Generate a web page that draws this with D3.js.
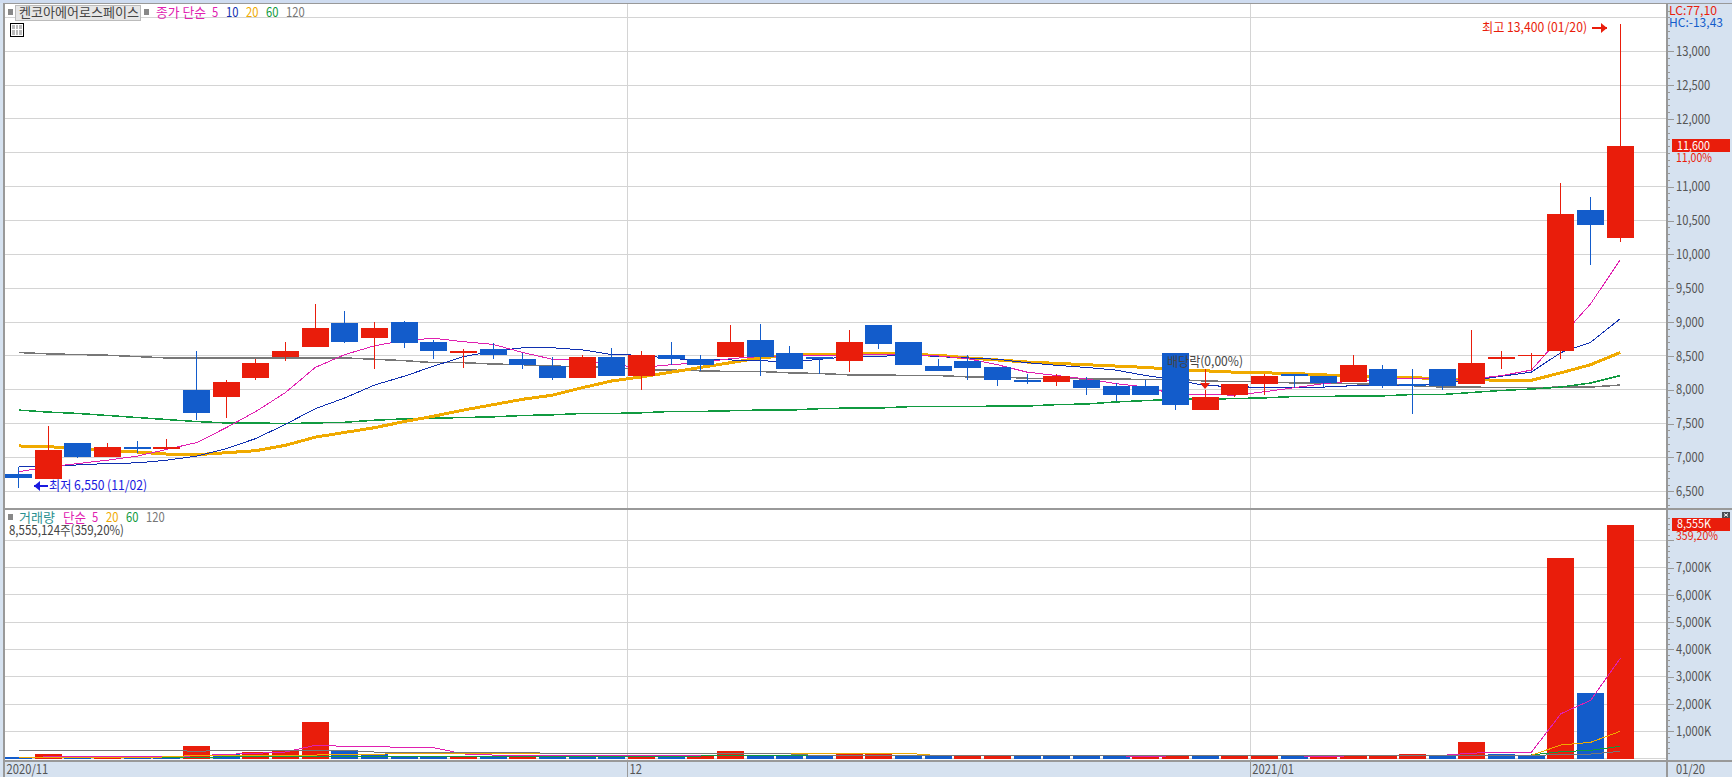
<!DOCTYPE html>
<html>
<head>
<meta charset="utf-8">
<script src="https://cdn.jsdelivr.net/npm/d3@7"></script>
<style>
  html, body { margin: 0; padding: 0; background: #fff; overflow: hidden; }
  svg { display: block; }
  text { font-family: "Noto Sans CJK KR", sans-serif; font-size: 13px; }
  .axis text { fill: #555; font-size: 13px; }
  .axis line { stroke: #999; shape-rendering: crispEdges; }
  .axis path { display: none; }
  .grid { stroke: #d4d4d4; shape-rendering: crispEdges; }
  .ma { fill: none; shape-rendering: crispEdges; }
</style>
</head>
<body>
<div id="chart"></div>
<script>
var dates = ['11/02','11/03','11/04','11/05','11/06','11/09','11/10','11/11','11/12','11/13','11/16','11/17','11/18','11/19','11/20','11/23','11/24','11/25','11/26','11/27','11/30',
  '12/01','12/02','12/03','12/04','12/07','12/08','12/09','12/10','12/11','12/14','12/15','12/16','12/17','12/18','12/21','12/22','12/23','12/24','12/28','12/29','12/30',
  '01/04','01/05','01/06','01/07','01/08','01/11','01/12','01/13','01/14','01/15','01/18','01/19','01/20'];

var opens = [6750,6680,7220,7000,7160,7120,7990,7890,8170,8490,8630,8980,8760,9000,8700,8550,8600,8460,8350,8170,8490,
  8200,8520,8460,8490,8730,8550,8490,8430,8950,8710,8350,8430,8330,8140,8120,8150,8050,8050,8550,7700,7930,
  8090,8230,8210,8110,8310,8090,8310,8080,8460,8500,8580,10650,10240];
var closes = [6690,7110,7000,7160,7120,7160,7650,8120,8390,8570,8910,8700,8910,8690,8570,8580,8510,8370,8180,8490,8200,
  8520,8450,8360,8710,8490,8300,8450,8710,8670,8370,8270,8320,8140,8120,8200,8020,7930,7920,7770,7900,8080,
  8210,8200,8100,8370,8060,8050,8050,8390,8480,8520,10600,10430,11600];
var highs = [6860,7470,7220,7220,7250,7270,8580,8140,8450,8710,9260,9160,9000,9010,8740,8600,8690,8550,8490,8510,8610,
  8580,8710,8510,8950,8970,8640,8490,8880,8950,8710,8460,8510,8330,8240,8240,8190,8100,8150,8550,7990,8080,
  8240,8230,8210,8510,8370,8300,8310,8890,8580,8550,11050,10850,13400];
var lows = [6550,6680,6990,7000,7060,7120,7560,7590,8140,8420,8630,8690,8300,8610,8450,8320,8450,8300,8140,8170,8200,
  7990,8370,8270,8480,8200,8300,8240,8260,8600,8370,8270,8140,8050,8080,8050,7930,7840,7920,7700,7700,7890,
  7920,8020,8040,8110,8020,7640,8000,8080,8300,8290,8460,9840,10190];

var ma5 = [6790,6860,6910,6960,7020,7120,7220,7440,7680,7960,8330,8520,8650,8730,8760,8710,8670,8550,8450,8440,8370,
  8330,8370,8400,8460,8490,8500,8500,8510,8520,8520,8500,8460,8370,8260,8210,8160,8090,8040,7930,7930,7920,
  7970,8030,8090,8130,8150,8170,8150,8160,8210,8290,8780,9270,9920];
var ma10 = [6860,6860,6890,6910,6920,6960,7020,7130,7280,7490,7720,7880,8070,8200,8350,8490,8570,8620,8620,8590,8520,
  8510,8460,8440,8440,8430,8410,8450,8490,8490,8520,8490,8470,8450,8400,8360,8330,8290,8210,8150,8060,8050,
  8030,8040,8040,8060,8060,8060,8100,8140,8200,8260,8550,8700,9050];
var ma20 = [7170,7160,7130,7100,7080,7050,7040,7070,7100,7180,7300,7370,7440,7530,7610,7700,7780,7860,7920,8030,8130,
  8190,8260,8330,8400,8470,8510,8520,8530,8540,8520,8510,8470,8440,8410,8390,8370,8350,8330,8300,8280,8260,
  8250,8240,8220,8200,8190,8180,8160,8150,8140,8140,8250,8370,8550];
var ma60 = [7700,7670,7650,7620,7590,7560,7530,7510,7510,7500,7510,7520,7550,7570,7580,7590,7600,7620,7630,7650,7650,
  7660,7680,7680,7690,7700,7700,7720,7730,7730,7750,7750,7750,7760,7760,7780,7790,7820,7840,7860,7860,7870,
  7880,7900,7900,7910,7910,7930,7930,7960,7990,8010,8040,8100,8210];
var ma120 = [8550,8530,8520,8510,8490,8470,8470,8470,8470,8470,8470,8470,8450,8430,8400,8400,8380,8370,8350,8340,8330,
  8300,8290,8280,8270,8270,8250,8240,8220,8220,8210,8210,8190,8190,8170,8170,8160,8160,8150,8150,8130,8120,
  8120,8100,8100,8090,8080,8060,8040,8040,8030,8030,8040,8040,8070];

var volumes = [50,168,60,70,60,60,462,155,242,290,1341,304,155,100,100,110,90,130,100,100,100,
  135,105,90,278,130,100,90,205,205,100,80,85,85,80,80,80,80,75,90,80,90,
  90,80,75,90,90,168,95,608,162,106,7350,2404,8555];
var volumeUp = [0,1,0,1,0,0,1,0,1,1,1,0,0,0,0,1,0,1,0,0,0,
  1,0,1,1,0,0,0,1,1,0,0,1,1,0,0,0,0,1,1,0,1,
  1,0,1,1,1,1,0,1,0,0,1,0,1];
var volMa5 = [50,60,60,60,60,60,106,155,194,242,487,450,450,400,400,170,130,107,107,107,107,
  107,107,107,107,107,107,107,107,107,107,107,107,107,107,107,107,107,70,107,107,107,
  107,107,70,107,107,107,120,200,230,230,1645,2135,3675];
var volMa20 = [50,50,50,50,50,60,120,125,125,125,130,155,155,194,194,194,194,194,194,194,194,
  194,194,194,194,194,194,194,194,194,194,107,107,107,107,107,107,107,107,107,107,107,
  107,107,107,107,107,107,107,107,107,120,498,597,1000];
var volMa60 = [48,48,48,48,48,48,48,60,70,85,95,95,95,95,95,95,95,95,95,95,95,
  95,95,95,100,100,100,100,100,100,100,105,105,105,105,105,105,105,105,105,105,105,
  105,105,105,105,105,105,105,105,110,132,253,304,450];
var volMa120 = [304,304,304,304,304,304,267,304,304,304,304,304,241,241,241,241,241,241,180,180,180,
  180,180,180,170,170,170,107,107,107,107,107,107,107,107,107,107,107,107,107,107,107,
  107,107,107,107,107,107,107,107,110,120,143,168,267];

var priceTicks = [6500,7000,7500,8000,8500,9000,9500,10000,10500,11000,11500,12000,12500,13000,13500];
var priceLabels = [6500,7000,7500,8000,8500,9000,9500,10000,10500,11000,12000,12500,13000];
var volumeTicks = [1000,2000,3000,4000,5000,6000,7000,8000];
var volumeLabels = [1000,2000,3000,4000,5000,6000,7000];
var monthStarts = ['11/02','12/01','01/04'];
var monthLabels = ['2020/11','12','2021/01'];

var red = '#e91d0b', blue = '#135ccb';
var maMagenta = '#e020b0', maBlue = '#1030b0', maOrange = '#f0aa00', maGreen = '#109a40', maGray = '#777';

var width = 1732, height = 777;
var left = 4, right = 1667, top1 = 4, mid = 508, bottom = 760;

var chart = d3.select('#chart').append('svg')
  .attr('width', width)
  .attr('height', height);

var x = d3.scaleBand().domain(dates).range([3.82, 1635.1]).paddingInner(0.089).paddingOuter(0.0445);
var y = d3.scaleLinear().domain([6500, 13000]).range([491.3, 51.3]);
var yv = d3.scaleLinear().domain([0, 7000]).range([758.6, 567.6]);
var cx = function(d) { return x(d) + x.bandwidth() / 2; };
var bandLeft = function(d) { return x(d) - (x.step() - x.bandwidth()) / 2 + 0.8; };

function label(px, py, str, color, size, len) {
  var t = chart.append('text').attr('x', px).attr('y', py).attr('dy', '.36em')
    .attr('fill', color).style('font-size', (size || 13) + 'px').text(str);
  if (len) t.attr('textLength', len).attr('lengthAdjust', 'spacingAndGlyphs');
  return t;
}
function box(px, py, w, h, fill) {
  return chart.append('rect').attr('x', px).attr('y', py).attr('width', w).attr('height', h)
    .attr('fill', fill).attr('shape-rendering', 'crispEdges');
}

// side and bottom panels
box(0, 0, width, 3, '#cfdcf0');
box(right, 3, width - right, height - 3, '#d6e2f0');
box(0, bottom, width, height - bottom, '#d6e2f0');
box(0, 3, left, height, '#d6e2f0');

// grid
chart.append('g').selectAll('line').data(priceTicks).enter().append('line')
  .attr('class', 'grid').attr('x1', left).attr('x2', right)
  .attr('y1', function(d) { return y(d); }).attr('y2', function(d) { return y(d); });
chart.append('g').selectAll('line').data(volumeTicks).enter().append('line')
  .attr('class', 'grid').attr('x1', left).attr('x2', right)
  .attr('y1', function(d) { return yv(d); }).attr('y2', function(d) { return yv(d); });
chart.append('line').attr('class', 'grid').attr('x1', left).attr('x2', right)
  .attr('y1', yv(0)).attr('y2', yv(0));
chart.append('g').selectAll('line').data(monthStarts.slice(1)).enter().append('line')
  .attr('class', 'grid').attr('y1', top1).attr('y2', bottom)
  .attr('x1', bandLeft).attr('x2', bandLeft);

// price moving averages go under the candles
function maLine(values, scale, color, w) {
  var line = d3.line()
    .x(function(d, i) { return cx(dates[i]); })
    .y(function(d) { return scale(d); });
  chart.append('path').datum(values).attr('class', 'ma')
    .attr('stroke', color).attr('stroke-width', w).attr('d', line);
}
maLine(ma120, y, maGray, 1.5);
maLine(ma60, y, maGreen, 1.5);
maLine(ma20, y, maOrange, 3);
maLine(ma10, y, maBlue, 1);
maLine(ma5, y, maMagenta, 1);

// candles
var candleColor = function(d, i) { return closes[i] >= opens[i] ? red : blue; };
chart.append('g').selectAll('line').data(dates).enter().append('line')
  .attr('x1', cx).attr('x2', cx)
  .attr('y1', function(d, i) { return y(highs[i]); })
  .attr('y2', function(d, i) { return y(lows[i]); })
  .attr('stroke', candleColor).attr('shape-rendering', 'crispEdges');
chart.append('g').selectAll('rect').data(dates).enter().append('rect')
  .attr('x', function(d) { return x(d); })
  .attr('width', x.bandwidth())
  .attr('y', function(d, i) { return y(Math.max(opens[i], closes[i])); })
  .attr('height', function(d, i) { return Math.max(1, Math.abs(y(opens[i]) - y(closes[i]))); })
  .attr('fill', candleColor).attr('shape-rendering', 'crispEdges');

// volume bars, averages on top
chart.append('g').selectAll('rect').data(dates).enter().append('rect')
  .attr('x', function(d) { return x(d); })
  .attr('width', x.bandwidth())
  .attr('y', function(d, i) { return yv(volumes[i]); })
  .attr('height', function(d, i) { return yv(0) - yv(volumes[i]); })
  .attr('fill', function(d, i) { return volumeUp[i] ? red : blue; })
  .attr('shape-rendering', 'crispEdges');
maLine(volMa5, yv, maMagenta, 1);
maLine(volMa60, yv, maGreen, 1);
maLine(volMa20, yv, maOrange, 1);
maLine(volMa120, yv, maGray, 1);

// axes
chart.append('g').attr('class', 'axis').attr('transform', 'translate(' + right + ',0)')
  .call(d3.axisRight(y).tickValues(d3.range(6300, 13700, 100)).tickSize(3).tickFormat(''));
chart.append('g').attr('class', 'axis').attr('transform', 'translate(' + right + ',0)')
  .call(d3.axisRight(y).tickValues(priceLabels).tickSize(7).tickPadding(2).tickFormat(d3.format(',')));
chart.append('g').attr('class', 'axis').attr('transform', 'translate(' + right + ',0)')
  .call(d3.axisRight(yv).tickValues(d3.range(200, 9000, 200)).tickSize(3).tickFormat(''));
chart.append('g').attr('class', 'axis').attr('transform', 'translate(' + right + ',0)')
  .call(d3.axisRight(yv).tickValues(volumeTicks).tickSize(7).tickFormat(''));
chart.append('g').attr('class', 'axis').attr('transform', 'translate(' + right + ',0)')
  .call(d3.axisRight(yv).tickValues(volumeLabels).tickSize(7).tickPadding(2)
    .tickFormat(function(d) { return d3.format(',')(d) + 'K'; }));

// frame
box(left - 1, top1 - 1, 2, height, '#999');
box(left, top1 - 1, width - left, 1, '#999');
box(left, mid, width - left, 2, '#999');
box(left, bottom, width - left, 2, '#999');
box(right - 1, top1, 2, height, '#999');
monthStarts.slice(1).forEach(function(d) { box(bandLeft(d), bottom, 1, height - bottom, '#999'); });

monthLabels.forEach(function(d, i) {
  label(bandLeft(monthStarts[i]) + (i == 0 ? 2 : 2), 769, d, '#555');
});
label(1676, 769, '01/20', '#555', 13, 29);

// header of price pane
box(8, 9, 5, 6, '#888');
box(15.5, 5.5, 125, 15, '#e6e6e6').attr('stroke', '#bbb');
label(19, 12, '켄코아에어로스페이스', '#444', 13, 120);
box(144, 9, 5, 6, '#888');
label(156, 12, '종가 단순', maMagenta, 13, 50);
label(212, 12, '5', maMagenta);
label(226, 12, '10', maBlue);
label(246, 12, '20', maOrange);
label(266, 12, '60', maGreen);
label(286, 12, '120', maGray);

// table icon
box(10.5, 23.5, 13, 13, '#fff').attr('stroke', '#000');
box(12, 25, 10, 10, '#bbb');
chart.append('g').selectAll('line').data([15, 18]).enter().append('line')
  .attr('x1', function(d) { return d; }).attr('x2', function(d) { return d; })
  .attr('y1', 25).attr('y2', 35).attr('stroke', '#fff').attr('shape-rendering', 'crispEdges');
chart.append('line').attr('x1', 12).attr('x2', 22).attr('y1', 29).attr('y2', 29)
  .attr('stroke', '#fff').attr('shape-rendering', 'crispEdges');

// header of volume pane
box(8, 514, 5, 6, '#888');
label(19, 517, '거래량', '#2a9090', 13, 36);
label(63, 517, '단순', maMagenta, 13, 23);
label(92, 517, '5', maMagenta);
label(106, 517, '20', maOrange);
label(126, 517, '60', maGreen);
label(146, 517, '120', maGray);
label(9, 530, '8,555,124주(359,20%)', '#444', 13, 115);

// high and low notes
function arrow(x1, x2, py, color) {
  var dir = x2 > x1 ? 1 : -1;
  chart.append('line').attr('x1', x1).attr('x2', x2).attr('y1', py).attr('y2', py)
    .attr('stroke', color).attr('stroke-width', 2).attr('shape-rendering', 'crispEdges');
  chart.append('path').attr('fill', color)
    .attr('d', 'M' + x2 + ',' + py + 'l' + (-6 * dir) + ',-5v10z');
}
label(1482, 27, '최고 13,400 (01/20)', red, 13, 105);
arrow(1592, 1607, 28, red);
label(49, 485, '최저 6,550 (11/02)', '#1a1ae0', 13, 98);
arrow(48, 34, 486, '#1a1ae0');

// dividend mark
chart.append('line').attr('x1', cx('12/29')).attr('x2', cx('12/29')).attr('y1', 369).attr('y2', 385)
  .attr('stroke', red).attr('shape-rendering', 'crispEdges');
chart.append('path').attr('fill', red)
  .attr('d', 'M' + (cx('12/29') - 5) + ',383h10l-5,6z');
label(1167, 361, '배당락(0,00%)', '#444', 13, 76);

// right side readouts
label(1669, 11, 'LC:77,10', red, 12, 48);
label(1669, 23, 'HC:-13,43', blue, 12, 54);
box(1672, 139, 58, 13, red);
label(1677, 146, '11,600', '#fff', 12, 33);
label(1676, 158, '11,00%', red, 12, 36);
box(1672, 518, 58, 13, red);
label(1677, 524, '8,555K', '#fff', 12, 34);
label(1676, 536, '359,20%', red, 12, 42);
box(1722, 512, 8, 6, '#4a4f55');
chart.append('path').attr('stroke', '#fff').attr('fill', 'none')
  .attr('d', 'M1724,513.5l4,3M1728,513.5l-4,3');

// the bitmap font of the original is tall and narrow, squeeze what has no set width
chart.selectAll('text').each(function() {
  if (this.getAttribute('textLength') || !this.textContent) return;
  this.setAttribute('textLength', this.getComputedTextLength() * 0.86);
  this.setAttribute('lengthAdjust', 'spacingAndGlyphs');
});
</script>
</body>
</html>
